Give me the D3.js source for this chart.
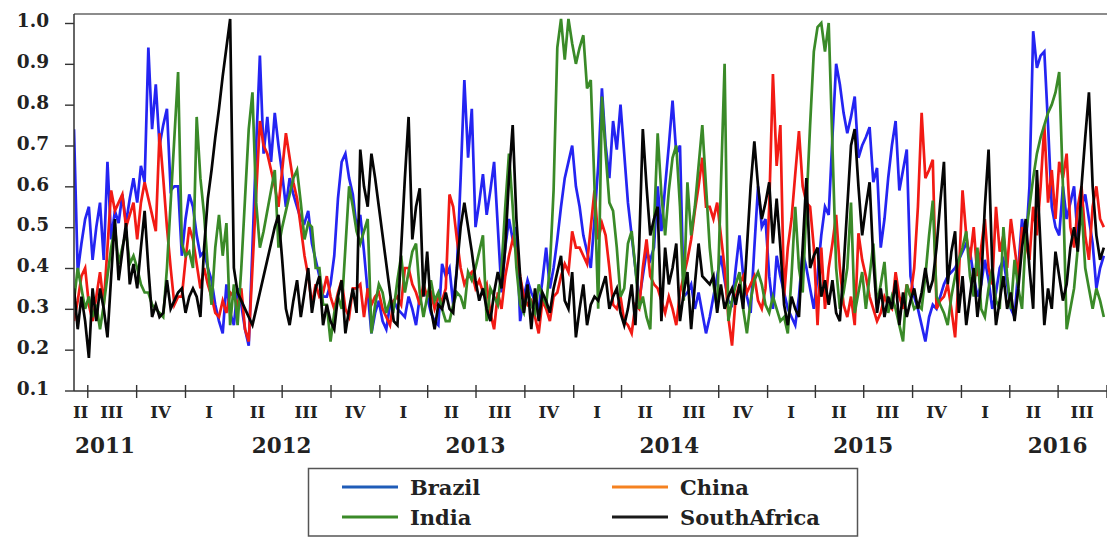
<!DOCTYPE html>
<html>
<head>
<meta charset="utf-8">
<script src="https://cdn.jsdelivr.net/npm/d3@7"></script>
<style>
  html, body { margin: 0; padding: 0; background: #fff; }
  svg { display: block; }
</style>
</head>
<body>
<svg id="chart" width="1107" height="538"></svg>
<script>
// Weekly observations, first week starting 6 June 2011
const startDate = new Date(2011, 5, 6);
const endDate = new Date(2016, 9, 2);

const brazil = [
  0.74,0.39,0.46,0.52,0.55,0.42,0.50,0.56,0.42,0.66,
  0.47,0.54,0.51,0.58,0.51,0.57,0.62,0.56,0.65,0.61,
  0.94,0.74,0.85,0.70,0.75,0.79,0.59,0.60,0.60,0.43,
  0.52,0.58,0.55,0.48,0.43,0.44,0.40,0.37,0.31,0.27,
  0.24,0.36,0.29,0.26,0.35,0.31,0.25,0.21,0.45,0.70,
  0.92,0.68,0.77,0.66,0.78,0.70,0.63,0.55,0.62,0.58,
  0.55,0.52,0.51,0.54,0.46,0.42,0.38,0.33,0.33,0.36,
  0.43,0.57,0.66,0.68,0.62,0.58,0.50,0.53,0.44,0.34,
  0.24,0.29,0.32,0.27,0.25,0.31,0.32,0.30,0.29,0.28,
  0.33,0.30,0.26,0.33,0.35,0.33,0.29,0.27,0.26,0.41,
  0.38,0.40,0.31,0.40,0.62,0.86,0.67,0.79,0.50,0.56,
  0.63,0.53,0.59,0.66,0.50,0.34,0.45,0.52,0.47,0.50,
  0.27,0.33,0.37,0.34,0.32,0.30,0.37,0.45,0.35,0.40,
  0.47,0.55,0.62,0.66,0.70,0.60,0.55,0.48,0.44,0.40,
  0.52,0.65,0.84,0.70,0.62,0.76,0.69,0.80,0.68,0.56,
  0.48,0.40,0.32,0.38,0.44,0.42,0.45,0.60,0.49,0.60,
  0.70,0.81,0.68,0.70,0.33,0.34,0.36,0.30,0.34,0.29,
  0.24,0.28,0.33,0.38,0.43,0.37,0.32,0.31,0.40,0.48,
  0.38,0.33,0.29,0.45,0.60,0.50,0.52,0.38,0.30,0.43,
  0.38,0.34,0.30,0.28,0.26,0.33,0.44,0.40,0.35,0.30,
  0.38,0.48,0.55,0.53,0.72,0.90,0.85,0.78,0.73,0.77,
  0.82,0.67,0.70,0.72,0.745,0.61,0.645,0.45,0.52,0.62,
  0.70,0.76,0.59,0.64,0.69,0.38,0.33,0.30,0.26,0.22,
  0.28,0.31,0.30,0.33,0.36,0.38,0.39,0.40,0.42,0.44,
  0.46,0.44,0.38,0.33,0.36,0.42,0.37,0.30,0.34,0.40,
  0.42,0.36,0.30,0.28,0.40,0.52,0.45,0.60,0.98,0.89,
  0.92,0.93,0.75,0.55,0.50,0.48,0.60,0.52,0.56,0.60,
  0.47,0.55,0.58,0.52,0.46,0.35,0.40,0.43
];

const china = [
  0.27,0.32,0.38,0.40,0.31,0.27,0.33,0.39,0.31,0.45,
  0.59,0.54,0.56,0.58,0.50,0.53,0.56,0.47,0.56,0.61,
  0.57,0.53,0.49,0.73,0.62,0.50,0.40,0.31,0.33,0.33,
  0.42,0.50,0.47,0.41,0.35,0.40,0.36,0.33,0.29,0.28,
  0.32,0.29,0.34,0.33,0.31,0.35,0.25,0.22,0.40,0.58,
  0.76,0.70,0.68,0.64,0.60,0.55,0.64,0.73,0.67,0.61,
  0.57,0.50,0.43,0.38,0.31,0.36,0.33,0.34,0.38,0.33,
  0.30,0.34,0.37,0.30,0.28,0.35,0.35,0.36,0.28,0.35,
  0.31,0.33,0.34,0.30,0.28,0.26,0.32,0.33,0.31,0.40,
  0.40,0.36,0.34,0.31,0.36,0.33,0.34,0.30,0.33,0.32,
  0.35,0.58,0.55,0.47,0.40,0.36,0.38,0.39,0.35,0.37,
  0.34,0.36,0.29,0.25,0.34,0.30,0.38,0.43,0.47,0.44,
  0.38,0.33,0.31,0.32,0.28,0.24,0.32,0.30,0.27,0.33,
  0.34,0.38,0.41,0.39,0.49,0.45,0.45,0.43,0.41,0.50,
  0.59,0.47,0.51,0.48,0.40,0.31,0.30,0.33,0.27,0.26,
  0.24,0.31,0.30,0.40,0.47,0.38,0.36,0.35,0.32,0.29,
  0.33,0.30,0.26,0.34,0.38,0.42,0.47,0.54,0.60,0.67,
  0.55,0.55,0.52,0.56,0.48,0.40,0.28,0.21,0.33,0.36,
  0.38,0.34,0.36,0.38,0.32,0.30,0.35,0.55,0.875,0.65,
  0.75,0.33,0.45,0.52,0.63,0.735,0.60,0.56,0.55,0.45,
  0.26,0.45,0.30,0.40,0.46,0.53,0.40,0.31,0.28,0.33,
  0.26,0.485,0.42,0.38,0.33,0.30,0.27,0.29,0.33,0.31,
  0.30,0.39,0.33,0.30,0.36,0.33,0.40,0.55,0.78,0.62,
  0.64,0.665,0.30,0.32,0.33,0.36,0.30,0.23,0.38,0.59,
  0.48,0.42,0.50,0.38,0.45,0.52,0.40,0.36,0.55,0.44,
  0.48,0.40,0.52,0.45,0.38,0.50,0.46,0.42,0.55,0.48,
  0.60,0.75,0.56,0.64,0.52,0.66,0.62,0.68,0.50,0.45,
  0.55,0.60,0.48,0.42,0.55,0.60,0.52,0.50
];

const india = [
  0.32,0.40,0.35,0.30,0.33,0.28,0.31,0.25,0.31,0.38,
  0.45,0.50,0.41,0.45,0.49,0.41,0.43,0.40,0.36,0.34,
  0.34,0.31,0.30,0.29,0.28,0.40,0.56,0.72,0.88,0.46,
  0.43,0.44,0.40,0.77,0.62,0.53,0.40,0.31,0.45,0.53,
  0.43,0.51,0.26,0.36,0.26,0.40,0.57,0.74,0.83,0.56,
  0.45,0.49,0.54,0.59,0.64,0.45,0.50,0.54,0.58,0.62,
  0.64,0.56,0.47,0.51,0.50,0.40,0.40,0.31,0.31,0.22,
  0.29,0.33,0.30,0.45,0.60,0.55,0.49,0.46,0.49,0.52,
  0.24,0.31,0.36,0.34,0.29,0.32,0.30,0.37,0.43,0.34,
  0.39,0.44,0.46,0.34,0.28,0.33,0.37,0.32,0.34,0.30,
  0.27,0.27,0.31,0.34,0.33,0.30,0.39,0.37,0.40,0.44,
  0.48,0.27,0.35,0.33,0.31,0.40,0.55,0.68,0.55,0.40,
  0.31,0.29,0.35,0.31,0.29,0.36,0.33,0.31,0.40,0.59,
  0.94,1.01,0.91,1.01,0.95,0.90,0.94,0.97,0.84,0.86,
  0.60,0.30,0.82,0.68,0.56,0.54,0.45,0.33,0.35,0.46,
  0.49,0.40,0.30,0.33,0.28,0.25,0.50,0.73,0.58,0.48,
  0.59,0.67,0.70,0.55,0.32,0.61,0.48,0.55,0.65,0.75,
  0.60,0.45,0.36,0.30,0.60,0.90,0.27,0.32,0.36,0.39,
  0.30,0.24,0.32,0.37,0.39,0.36,0.31,0.29,0.33,0.30,
  0.27,0.28,0.24,0.38,0.55,0.40,0.34,0.55,0.75,0.93,
  0.99,1.00,0.93,1.00,0.70,0.40,0.30,0.34,0.40,0.56,
  0.29,0.34,0.39,0.30,0.38,0.46,0.31,0.36,0.415,0.29,
  0.33,0.30,0.26,0.22,0.36,0.33,0.30,0.31,0.30,0.38,
  0.48,0.565,0.33,0.31,0.29,0.26,0.33,0.38,0.42,0.45,
  0.49,0.38,0.33,0.45,0.30,0.28,0.35,0.40,0.32,0.30,
  0.50,0.38,0.30,0.42,0.35,0.30,0.48,0.55,0.62,0.68,
  0.72,0.75,0.78,0.80,0.83,0.88,0.60,0.25,0.30,0.35,
  0.45,0.55,0.40,0.35,0.30,0.35,0.32,0.28
];

const southAfrica = [
  0.35,0.25,0.33,0.27,0.18,0.35,0.27,0.35,0.30,0.23,
  0.38,0.52,0.37,0.44,0.51,0.36,0.41,0.35,0.45,0.54,
  0.40,0.28,0.31,0.28,0.29,0.37,0.30,0.32,0.34,0.35,
  0.29,0.33,0.35,0.33,0.28,0.45,0.57,0.64,0.72,0.79,
  0.87,0.94,1.01,0.40,0.34,0.32,0.30,0.28,0.26,0.30,
  0.34,0.38,0.42,0.46,0.50,0.53,0.42,0.30,0.26,0.32,
  0.37,0.28,0.34,0.40,0.29,0.35,0.38,0.26,0.31,0.27,
  0.25,0.33,0.37,0.24,0.30,0.35,0.29,0.69,0.60,0.55,
  0.68,0.62,0.55,0.48,0.41,0.34,0.27,0.26,0.45,0.62,
  0.77,0.47,0.55,0.595,0.33,0.44,0.30,0.25,0.31,0.30,
  0.34,0.30,0.29,0.40,0.50,0.56,0.50,0.44,0.37,0.32,
  0.35,0.30,0.27,0.34,0.39,0.35,0.45,0.62,0.75,0.52,
  0.38,0.29,0.36,0.25,0.35,0.27,0.34,0.32,0.29,0.35,
  0.39,0.43,0.32,0.30,0.39,0.23,0.30,0.36,0.26,0.31,
  0.33,0.32,0.35,0.38,0.30,0.33,0.35,0.29,0.26,0.30,
  0.36,0.26,0.45,0.74,0.60,0.48,0.52,0.55,0.27,0.45,
  0.36,0.40,0.46,0.27,0.34,0.39,0.25,0.36,0.46,0.38,
  0.37,0.36,0.38,0.29,0.36,0.30,0.33,0.35,0.31,0.36,
  0.30,0.45,0.60,0.71,0.60,0.52,0.56,0.61,0.46,0.57,
  0.45,0.31,0.26,0.33,0.30,0.28,0.45,0.62,0.40,0.43,
  0.45,0.33,0.37,0.31,0.37,0.29,0.27,0.40,0.55,0.70,
  0.74,0.60,0.48,0.55,0.61,0.42,0.29,0.35,0.28,0.33,
  0.30,0.37,0.26,0.34,0.28,0.32,0.35,0.30,0.34,0.40,
  0.34,0.37,0.45,0.56,0.66,0.36,0.44,0.49,0.29,0.38,
  0.26,0.33,0.40,0.28,0.36,0.55,0.69,0.40,0.26,0.32,
  0.38,0.30,0.34,0.27,0.35,0.45,0.52,0.40,0.30,0.64,
  0.45,0.26,0.35,0.30,0.44,0.38,0.32,0.36,0.45,0.50,
  0.44,0.60,0.72,0.83,0.60,0.48,0.42,0.45
];

const yTickValues = [0.1, 0.2, 0.3, 0.4, 0.5, 0.6, 0.7, 0.8, 0.9, 1.0];
const quarterLabels = ["I", "II", "III", "IV"];
const yearLabels = [2011, 2012, 2013, 2014, 2015, 2016];

const series = [
  { name: "Brazil",      values: brazil,      line: "#2424f2", key: "#1f5cb8" },
  { name: "China",       values: china,       line: "#f21a14", key: "#f58220" },
  { name: "India",       values: india,       line: "#3a8a28", key: "#3a8a28" },
  { name: "SouthAfrica", values: southAfrica, line: "#050505", key: "#1a1a1a" }
];

const FONT = "'DejaVu Serif', 'Liberation Serif', serif";
const plot = { left: 74, right: 1107, top: 14, bottom: 391 };

const svg = d3.select("#chart");

const x = d3.scaleTime().domain([startDate, endDate]).range([plot.left, plot.right]);
const y = d3.scaleLinear().domain([0.1, 1.0]).range([390.5, 23]);

const weekDates = brazil.map((_, i) => d3.timeDay.offset(startDate, 7 * i));

svg.append("defs").append("clipPath").attr("id", "plotClip")
  .append("rect")
  .attr("x", plot.left).attr("y", plot.top - 2)
  .attr("width", plot.right - plot.left).attr("height", plot.bottom - plot.top + 2);

// series lines
const line = d3.line()
  .x((d, i) => x(weekDates[i]))
  .y(d => y(d));

const linesG = svg.append("g").attr("clip-path", "url(#plotClip)");
series.forEach(s => {
  linesG.append("path")
    .datum(s.values)
    .attr("fill", "none")
    .attr("stroke", s.line)
    .attr("stroke-width", 2.7)
    .attr("stroke-linejoin", "miter")
    .attr("d", line);
});

// top border of the plot frame
svg.append("line")
  .attr("x1", plot.left).attr("x2", plot.right)
  .attr("y1", plot.top).attr("y2", plot.top)
  .attr("stroke", "#666").attr("stroke-width", 1.5);

// y axis
const yAxis = d3.axisLeft(y)
  .tickValues(yTickValues)
  .tickSize(9)
  .tickPadding(16)
  .tickFormat(d3.format(".1f"));

const yG = svg.append("g")
  .attr("transform", `translate(${plot.left},0)`)
  .call(yAxis);
yG.select(".domain").remove();
yG.selectAll(".tick line").attr("stroke", "#333").attr("stroke-width", 1.4);
yG.selectAll(".tick text")
  .attr("font-family", FONT)
  .attr("font-weight", "bold")
  .attr("font-size", 18.5)
  .attr("fill", "#222")
  .attr("dy", "0.2em");

svg.append("line")
  .attr("x1", plot.left).attr("x2", plot.left)
  .attr("y1", plot.top).attr("y2", plot.bottom)
  .attr("stroke", "#333").attr("stroke-width", 1.5);

// x axis: ticks at quarter starts, crossing the axis line
const quarterStarts = d3.timeMonth.every(3).range(startDate, endDate);
const xAxis = d3.axisBottom(x)
  .tickValues(quarterStarts)
  .tickSize(7)
  .tickFormat("");

const xG = svg.append("g")
  .attr("transform", `translate(0,${plot.bottom})`)
  .call(xAxis);
xG.select(".domain").remove();
xG.selectAll(".tick line")
  .attr("y1", -6).attr("y2", 7)
  .attr("stroke", "#333").attr("stroke-width", 1.4);

svg.append("line")
  .attr("x1", plot.left).attr("x2", plot.right)
  .attr("y1", plot.bottom).attr("y2", plot.bottom)
  .attr("stroke", "#333").attr("stroke-width", 1.5);

// quarter labels centred in the visible part of each quarter
const firstQuarter = d3.timeMonth.every(3).floor(startDate);
const quarterSpans = d3.timeMonth.every(3).range(firstQuarter, endDate)
  .map(q => {
    const a = x(new Date(Math.max(+q, +startDate)));
    const b = x(new Date(Math.min(+d3.timeMonth.offset(q, 3), +endDate)));
    return { q, a, b };
  })
  .filter(d => d.b - d.a > 5);

svg.append("g").selectAll("text")
  .data(quarterSpans)
  .join("text")
  .attr("x", d => (d.a + d.b) / 2)
  .attr("y", 418)
  .attr("text-anchor", "middle")
  .attr("font-family", FONT)
  .attr("font-weight", "bold")
  .attr("font-size", 16.5)
  .attr("fill", "#222")
  .text(d => quarterLabels[d.q.getMonth() / 3]);

// year labels at mid-year, kept inside the plot width
svg.append("g").selectAll("text")
  .data(yearLabels)
  .join("text")
  .attr("x", yr => {
    const half = 31;
    const cx = x(new Date(yr, 6, 1));
    return Math.min(Math.max(cx, plot.left + half), plot.right - half);
  })
  .attr("y", 453)
  .attr("text-anchor", "middle")
  .attr("font-family", FONT)
  .attr("font-weight", "bold")
  .attr("font-size", 21.5)
  .attr("fill", "#222")
  .text(yr => yr);

// legend
const legend = svg.append("g");
legend.append("rect")
  .attr("x", 308.5).attr("y", 468.5)
  .attr("width", 549).attr("height", 67.5)
  .attr("fill", "#fff")
  .attr("stroke", "#555").attr("stroke-width", 1.5);

const legendPos = [
  { cx: 342, cy: 487 },
  { cx: 612, cy: 487 },
  { cx: 342, cy: 517 },
  { cx: 612, cy: 517 }
];
series.forEach((s, i) => {
  const p = legendPos[i];
  legend.append("line")
    .attr("x1", p.cx).attr("x2", p.cx + 56)
    .attr("y1", p.cy).attr("y2", p.cy)
    .attr("stroke", s.key).attr("stroke-width", 3);
  legend.append("text")
    .attr("x", p.cx + 68)
    .attr("y", p.cy + 8)
    .attr("font-family", FONT)
    .attr("font-weight", "bold")
    .attr("font-size", 21)
    .attr("fill", "#222")
    .text(s.name);
});
</script>
</body>
</html>
